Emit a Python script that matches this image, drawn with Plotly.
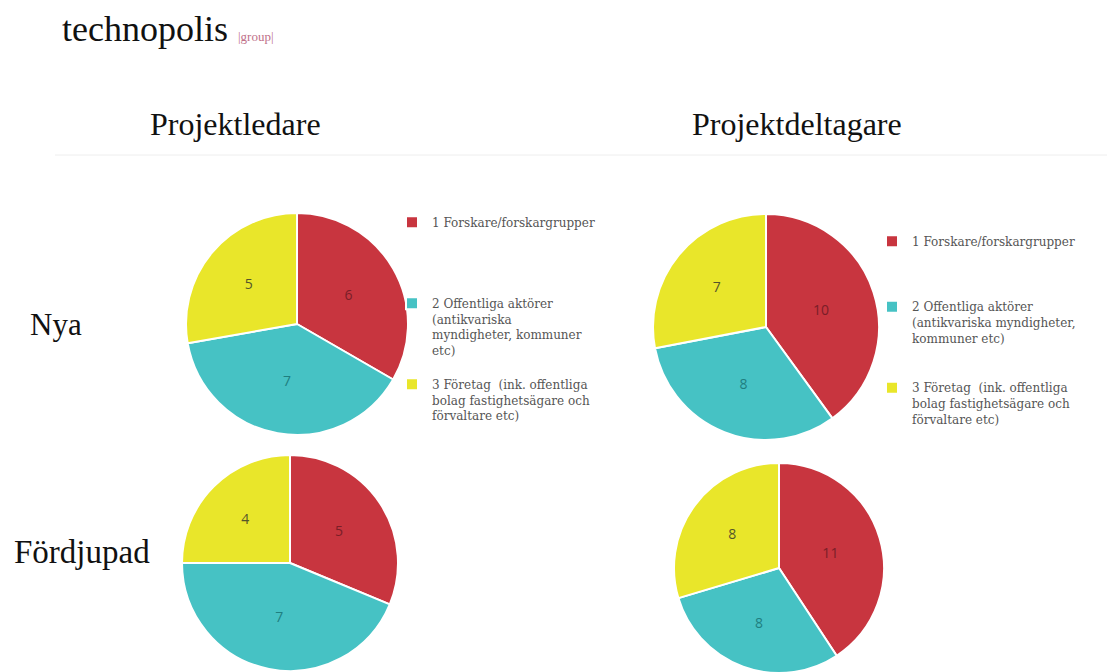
import plotly.graph_objects as go

W, H = 1115, 672
OFF = 8  # page body margin in the browser

categories = ["1 Forskare/forskargrupper", "2 Offentliga aktörer (antikvariska myndigheter, kommuner etc)",
              "3 Företag  (ink. offentliga bolag fastighetsägare och förvaltare etc)"]
legend_left = [
    "1 Forskare/forskargrupper<br>&nbsp;<br>&nbsp;<br>&nbsp;<br>&nbsp;",
    "2 Offentliga aktörer<br>(antikvariska<br>myndigheter, kommuner<br>etc)<br>&nbsp;",
    "3 Företag  (ink. offentliga<br>bolag fastighetsägare och<br>förvaltare etc)",
]
legend_right = [
    "1 Forskare/forskargrupper<br>&nbsp;<br>&nbsp;<br>&nbsp;",
    "2 Offentliga aktörer<br>(antikvariska myndigheter,<br>kommuner etc)<br>&nbsp;<br>&nbsp;",
    "3 Företag  (ink. offentliga<br>bolag fastighetsägare och<br>förvaltare etc)&nbsp;",
]
column_titles = ["Projektledare", "Projektdeltagare"]
row_titles = ["Nya", "Fördjupad"]

ledare_nya = [6, 7, 5]
deltagare_nya = [10, 8, 7]
ledare_fordjupad = [5, 7, 4]
deltagare_fordjupad = [11, 8, 8]

colors = ["#c8353f", "#46c2c4", "#e9e62a"]
text_colors = ["#7a1e28", "#1f7f80", "#55552a"]


def px(x):
    return (x - OFF) / W


def py(y):
    return 1 - (y - OFF) / H


def dom(cx, cy, d):
    clamp = lambda v: max(0.0, min(1.0, v))
    return dict(x=[clamp(px(cx - d / 2)), clamp(px(cx + d / 2))],
                y=[clamp(py(cy + d / 2)), clamp(py(cy - d / 2))])


def pie(values, labels, domain, legend, showlegend):
    return go.Pie(
        values=values, labels=labels, domain=domain, sort=False,
        direction="clockwise", rotation=0, textinfo="value",
        textposition="inside", insidetextorientation="horizontal",
        textfont=dict(family="Open Sans", size=14, color=text_colors),
        marker=dict(colors=colors, line=dict(color="white", width=2)),
        legend=legend, showlegend=showlegend, hoverinfo="label+value",
    )


fig = go.Figure()
fig.add_trace(pie(ledare_nya, legend_left, dom(297, 324, 222), "legend", True))
fig.add_trace(pie(deltagare_nya, legend_right, dom(766, 327, 226), "legend2", True))
fig.add_trace(pie(ledare_fordjupad, legend_left, dom(290, 563, 216), "legend", False))
fig.add_trace(pie(deltagare_fordjupad, legend_right, dom(779, 568, 210), "legend2", False))

legend_font = dict(family="DejaVu Serif", size=12, color="#555555")
serif = "Liberation Serif"
anns = [
    dict(x=px(60), y=py(29), text="technopolis", showarrow=False, xanchor="left", yanchor="middle",
         font=dict(family=serif, size=36, color="#111111")),
    dict(x=px(236), y=py(37), text="|group|", showarrow=False, xanchor="left", yanchor="middle",
         font=dict(family=serif, size=13, color="#c0708a")),
    dict(x=px(235), y=py(124), text=column_titles[0], showarrow=False, xanchor="center", yanchor="middle",
         font=dict(family=serif, size=32, color="#111111")),
    dict(x=px(797), y=py(124), text=column_titles[1], showarrow=False, xanchor="center", yanchor="middle",
         font=dict(family=serif, size=32, color="#111111")),
    dict(x=px(28), y=py(324), text=row_titles[0], showarrow=False, xanchor="left", yanchor="middle",
         font=dict(family=serif, size=31, color="#111111")),
    dict(x=px(12), y=py(552), text=row_titles[1], showarrow=False, xanchor="left", yanchor="middle",
         font=dict(family=serif, size=33, color="#111111")),
]

fig.update_layout(
    width=W, height=H, margin=dict(l=0, r=0, t=0, b=0),
    paper_bgcolor="white", plot_bgcolor="white",
    annotations=anns,
    shapes=[dict(type="line", xref="paper", yref="paper", x0=px(55), x1=1, y0=py(155), y1=py(155),
                 line=dict(color="#eeeeee", width=1))],
    legend=dict(x=px(392), y=py(208), xanchor="left", yanchor="top", valign="top",
                font=legend_font, bgcolor="rgba(0,0,0,0)", traceorder="normal"),
    legend2=dict(x=px(872), y=py(227), xanchor="left", yanchor="top", valign="top",
                 font=legend_font, bgcolor="rgba(0,0,0,0)", traceorder="normal"),
)

fig.write_html("out.html")
